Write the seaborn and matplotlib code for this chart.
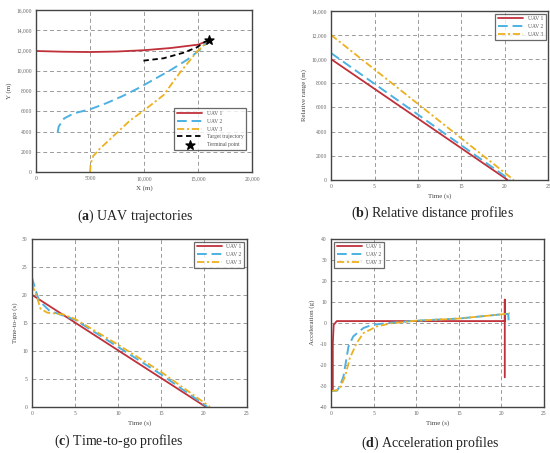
import numpy as np
import pandas as pd
import matplotlib
matplotlib.use('Agg')
import matplotlib.pyplot as plt
import matplotlib.ticker as mticker
import seaborn as sns

# =============================================================================
# Data
# =============================================================================

# (a) trajectories (m)
uav1_x = [0, 2500, 5000, 7500, 10000, 12500, 15000, 16000]
uav1_y = [11950, 11880, 11850, 11900, 12030, 12250, 12580, 13000]
uav2_x = [2000, 2100, 2600, 3500, 5000, 6500, 8000, 9500, 11000, 12500, 14000, 15200, 16000]
uav2_y = [3900, 4500, 5300, 5800, 6200, 6800, 7500, 8300, 9200, 10100, 11100, 12100, 13000]
uav3_x = [5000, 5050, 5300, 5900, 6900, 8700, 10000, 11800, 13300, 14900, 16000]
uav3_y = [0, 800, 1600, 2300, 3300, 5100, 6100, 7600, 9800, 11900, 13000]
target_x = [9940, 11790, 13640, 14880, 15650, 16000]
target_y = [11000, 11230, 11780, 12310, 12870, 13000]
terminal_x = [16000]
terminal_y = [13000]

# (b) relative range (m)
range_t1 = [0, 20.3]
range_r1 = [10000, 0]
range_t2 = [0, 20.6]
range_r2 = [10500, 0]
range_t3 = [0, 21.0]
range_r3 = [12000, 0]

# (c) time-to-go (s)
tgo_t1 = [0, 20.2]
tgo_v1 = [20, 0]
tgo_t2 = [0, 0.43, 0.82, 2.0, 3.6, 5, 10, 15, 20.4]
tgo_v2 = [23.1, 20.8, 19.0, 17.2, 16.3, 15.55, 10.7, 5.8, 0]
tgo_t3 = [0, 0.6, 1.0, 1.8, 3.6, 5, 10, 15, 20.7]
tgo_v3 = [21.9, 19.5, 17.5, 16.8, 16.5, 15.7, 11.1, 6.25, 0]

# (d) acceleration (g)
acc_t1 = [0.2, 0.2, 0.3, 0.67, 20.4, 20.4, 20.4]
acc_v1 = [-32, -10, -1, 0.8, 0.8, 11, -26]
acc_t2 = [0, 0.7, 1.05, 1.45, 2.04, 2.6, 3.8, 4.8, 7, 10, 15, 20, 20.8, 20.9]
acc_v2 = [-32.5, -32.3, -30, -25.6, -11.3, -6.5, -2.5, -1, 0, 1, 2, 4, 4.2, -1.5]
acc_t3 = [0, 0.6, 1.06, 1.64, 2.2, 3.0, 3.8, 5.4, 7, 10, 15, 20, 21]
acc_v3 = [-32.4, -32.2, -31, -25.6, -16.8, -9.7, -4.9, -1.7, -0.3, 1, 2, 4, 4.5]

labels = ['UAV 1', 'UAV 2', 'UAV 3']
captions = ['UAV trajectories', 'Relative distance profiles',
            'Time-to-go profiles', 'Acceleration profiles']

# =============================================================================
# Styling
# =============================================================================

sns.set_theme(style='white')
plt.rcParams['font.family'] = ['Liberation Serif', 'DejaVu Serif']
plt.rcParams['mathtext.fontset'] = 'custom'
plt.rcParams['mathtext.rm'] = 'Liberation Serif'
plt.rcParams['mathtext.bf'] = 'Liberation Serif:bold'

red = '#C0303A'
blue = '#4DB1E2'
yellow = '#EDB120'
styles = [dict(color=red, lw=1.3, linestyle='-'),
          dict(color=blue, lw=1.4, dashes=(5, 2.5)),
          dict(color=yellow, lw=1.3, dashes=(4, 1.5, 1.2, 1.5))]


def fmt(v, pos):
    if abs(v) >= 10000:
        return '{:,.0f}'.format(v)
    return '{:.0f}'.format(v)


def style_axes(ax, xlabel, ylabel):
    ax.grid(True, color='#9a9a9a', linestyle=(0, (4, 3)), linewidth=0.7)
    for s in ax.spines.values():
        s.set_color('#444444')
        s.set_linewidth(1.0)
    ax.tick_params(axis='both', labelsize=4, colors='#666666', length=0, pad=3)
    ax.xaxis.set_major_formatter(mticker.FuncFormatter(fmt))
    ax.yaxis.set_major_formatter(mticker.FuncFormatter(fmt))
    ax.set_xlabel(xlabel, fontsize=5, color='#444444', labelpad=3)
    ax.set_ylabel(ylabel, fontsize=5, color='#444444', labelpad=3)


def legend(ax, loc):
    leg = ax.legend(loc=loc, fontsize=4, frameon=True, fancybox=False,
                    edgecolor='#444444', handlelength=4.5, borderpad=0.5,
                    labelspacing=0.5)
    leg.get_frame().set_linewidth(0.9)
    for t in leg.get_texts():
        t.set_color('#555555')
    return leg


def draw(ax, xs, ys, lab, st):
    sns.lineplot(x=xs, y=ys, ax=ax, sort=False, estimator=None,
                 label=lab, **st)


fig = plt.figure(figsize=(5.5, 4.53), dpi=100)
ax1 = fig.add_axes([0.0655, 0.620, 0.393, 0.358])
ax2 = fig.add_axes([0.602, 0.603, 0.395, 0.373])
ax3 = fig.add_axes([0.058, 0.102, 0.391, 0.371])
ax4 = fig.add_axes([0.602, 0.102, 0.387, 0.371])

# (a) UAV trajectories
for xs, ys, lab, st in zip([uav1_x, uav2_x, uav3_x], [uav1_y, uav2_y, uav3_y], labels, styles):
    draw(ax1, xs, ys, lab, st)
draw(ax1, target_x, target_y, 'Target trajectory',
     dict(color='black', lw=1.3, dashes=(3, 2)))
ax1.scatter(terminal_x, terminal_y, marker='*', s=45, color='black',
            zorder=5, label='Terminal point')
ax1.set_xlim(0, 20000)
ax1.set_ylim(0, 16000)
ax1.set_xticks(np.arange(0, 20001, 5000))
ax1.set_yticks(np.arange(0, 16001, 2000))
style_axes(ax1, 'X (m)', 'Y (m)')
leg = legend(ax1, 'lower right')
leg.set_bbox_to_anchor((0.985, 0.12))

# (b) Relative distance
for xs, ys, lab, st in zip([range_t1, range_t2, range_t3], [range_r1, range_r2, range_r3], labels, styles):
    draw(ax2, xs, ys, lab, st)
ax2.set_xlim(0, 25)
ax2.set_ylim(0, 14000)
ax2.set_xticks(np.arange(0, 26, 5))
ax2.set_yticks(np.arange(0, 14001, 2000))
style_axes(ax2, 'Time (s)', 'Relative range (m)')
legend(ax2, 'upper right')

# (c) Time-to-go
for xs, ys, lab, st in zip([tgo_t1, tgo_t2, tgo_t3], [tgo_v1, tgo_v2, tgo_v3], labels, styles):
    draw(ax3, xs, ys, lab, st)
ax3.set_xlim(0, 25)
ax3.set_ylim(0, 30)
ax3.set_xticks(np.arange(0, 26, 5))
ax3.set_yticks(np.arange(0, 31, 5))
style_axes(ax3, 'Time (s)', 'Time-to-go (s)')
legend(ax3, 'upper right')

# (d) Acceleration
for xs, ys, lab, st in zip([acc_t1, acc_t2, acc_t3], [acc_v1, acc_v2, acc_v3], labels, styles):
    draw(ax4, xs, ys, lab, st)
ax4.set_xlim(0, 25)
ax4.set_ylim(-40, 40)
ax4.set_xticks(np.arange(0, 26, 5))
ax4.set_yticks(np.arange(-40, 41, 10))
style_axes(ax4, 'Time (s)', 'Acceleration (g)')
legend(ax4, 'upper left')

# captions
cap_pos = [(0.245, 0.523), (0.786, 0.528), (0.215, 0.026), (0.782, 0.022)]
for (cx, cy), letter, cap in zip(cap_pos, 'abcd', captions):
    fig.text(cx, cy, r'($\mathbf{' + letter + r'}$) ' + cap, ha='center',
             va='center', fontsize=10, color='#222222')

fig.savefig('out.png', dpi=100)
